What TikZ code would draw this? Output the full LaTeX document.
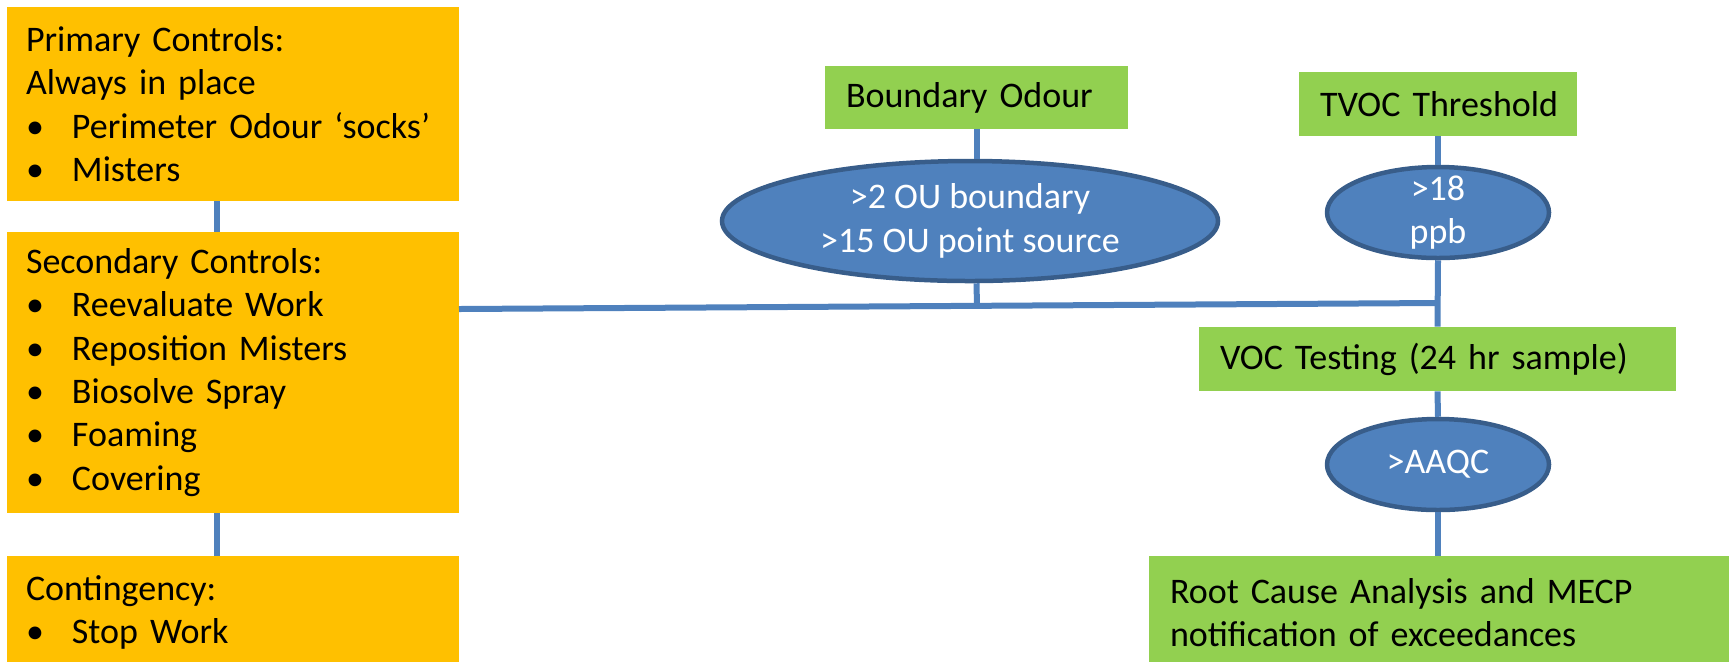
\documentclass[tikz,border=0pt]{standalone}
\usepackage{fontspec}
\setmainfont{Carlito}
\usetikzlibrary{shapes.geometric}

\definecolor{boxorange}{HTML}{FFC000}
\definecolor{boxgreen}{HTML}{92D050}
\definecolor{ovalfill}{HTML}{4F81BD}
\definecolor{ovaledge}{HTML}{385D8A}
\definecolor{linkblue}{HTML}{4F81BD}

% bullet line inside a control box
\newcommand{\itm}[1]{\mbox{\makebox[23pt][l]{\textbullet}#1}}

\tikzset{
  txt/.style={font=\fontsize{18}{21.65}\selectfont},
  ctrl/.style={txt, rectangle, fill=boxorange, draw=none, align=left,
    text width=207pt, inner xsep=9.5pt, inner ysep=0pt, minimum width=226pt},
  trig/.style={txt, rectangle, fill=boxgreen, draw=none, align=left,
    inner xsep=10.5pt, inner ysep=0pt},
  level/.style={txt, ellipse, fill=ovalfill, draw=ovaledge, line width=2.25pt,
    text=white, align=center, inner xsep=0pt, inner ysep=-8pt},
  link/.style={draw=linkblue, line width=3pt}
}

\begin{document}
\begin{tikzpicture}[x=0.5pt, y=-0.5pt]
  \clip (0,0) rectangle (1729,661);
  \useasboundingbox (0,0) rectangle (1729,661);

  % control measures (left column)
  \node[ctrl, minimum height=97pt] (pri) at (233,104)
    {Primary Controls:\\ Always in place\\ \itm{Perimeter Odour ‘socks’}\\ \itm{Misters}};
  \node[ctrl, minimum height=140.5pt] (sec) at (233,372.5)
    {Secondary Controls:\\ \itm{Reevaluate Work}\\ \itm{Reposition Misters}\\
     \itm{Biosolve Spray}\\ \itm{Foaming}\\ \itm{Covering}};
  \node[ctrl, minimum height=56.5pt] (con) at (233,612.5)
    {Contingency:\\ \itm{Stop Work}};

  % triggers
  \node[trig, text width=130.5pt, minimum height=31.5pt] (bo) at (976.5,97.5)
    {\mbox{Boundary Odour}};
  \node[level, minimum width=248pt, minimum height=60pt] (big) at (970,221)
    {>2 OU boundary\\ >15 OU point source};

  \node[trig, text width=118pt, minimum height=32pt] (tv) at (1438,104)
    {\mbox{TVOC Threshold}};
  \node[level, minimum width=111pt, minimum height=45.5pt] (s18) at (1438,212.5)
    {>18\\ ppb};
  \node[trig, text width=217.5pt, minimum height=32pt] (voc) at (1437.5,359)
    {\mbox{VOC Testing (24 hr sample)}};
  \node[level, minimum width=111pt, minimum height=45.5pt] (aq) at (1438,464.5)
    {>AAQC};
  \node[trig, text width=274.5pt, minimum height=56.5pt] (root) at (1444.5,612.5)
    {\mbox{Root Cause Analysis and MECP}\\ \mbox{notification of exceedances}};

  % junction points of the response line
  \coordinate (hs) at (459,309);
  \coordinate (jb) at (977,306);
  \coordinate (jt) at (1438,303);

  % connectors
  \draw[link] ([xshift=-8pt]pri.south) -- ([xshift=-8pt]pri.south |- sec.north);
  \draw[link] ([xshift=-8pt]sec.south) -- ([xshift=-8pt]sec.south |- con.north);
  \draw[link] (hs) -- (jt);
  \draw[link] (bo.south) -- (bo.south |- big.north);
  \draw[link] (bo.south |- big.south) -- (jb);
  \draw[link] (tv.south) -- (s18.north);
  \draw[link] (s18.south) -- (voc.north);
  \draw[link] (voc.south) -- (aq.north);
  \draw[link] (aq.south) -- (aq.south |- root.north);
\end{tikzpicture}
\end{document}
